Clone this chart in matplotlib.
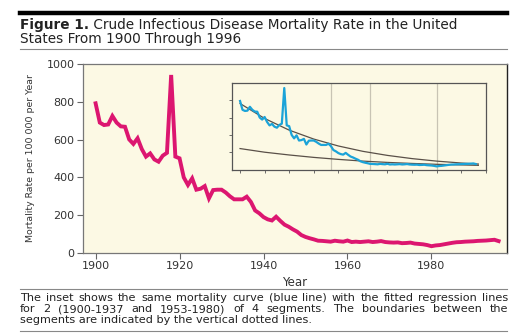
import matplotlib
matplotlib.use("Agg")
import matplotlib.pyplot as plt
import numpy as np

# ---- data ----
years = list(range(1900, 1997))
rate = [792, 690, 677, 680, 725, 690, 670, 668, 601, 577,
        607, 550, 510, 527, 495, 483, 515, 530, 942, 510,
        501, 400, 360, 395, 335, 340, 354, 289, 333, 335,
        335, 320, 300, 284, 284, 284, 298, 270, 225, 210,
        190, 178, 172, 192, 170, 150, 139, 125, 113, 95,
        85, 78, 72, 65, 64, 62, 60, 65, 62, 60,
        66, 58, 60, 58, 60, 62, 58, 60, 63, 58,
        56, 55, 56, 52, 53, 55, 50, 48, 46, 42,
        36, 40, 42, 46, 50, 54, 57, 58, 60, 61,
        62, 64, 65, 66, 68, 70, 63]

fit_years = [1900, 1910, 1920, 1930, 1940, 1950, 1960, 1970, 1980, 1990, 1997]
fit1 = [763, 590, 455, 352, 272, 210, 163, 126, 97, 75, 63]
fit2 = [242, 200, 168, 140, 117, 97, 82, 70, 60, 53, 48]
boundaries = [1937, 1953, 1980]

x_ticks = [1900, 1920, 1940, 1960, 1980]
y_ticks = [0, 200, 400, 600, 800, 1000]
inset_xticks = list(range(1900, 2001, 10))
inset_yticks = [200, 400, 600, 800]

title_bold = "Figure 1."
title_rest = " Crude Infectious Disease Mortality Rate in the United"
title_line2 = "States From 1900 Through 1996"
caption = ["The inset shows the same mortality curve (blue line) with the fitted regression lines",
           "for 2 (1900-1937 and 1953-1980) of 4 segments. The boundaries between the",
           "segments are indicated by the vertical dotted lines."]
ylabel = "Mortality Rate per 100 000 per Year"

W, H = 527, 336
fig = plt.figure(figsize=(W / 100, H / 100), dpi=100)
fig.patch.set_facecolor("white")

def fx(px):
    return px / W

def fy(py):
    return 1 - py / H

# header / footer rules
fig.add_artist(plt.Line2D([fx(20), fx(507)], [fy(13), fy(13)], color="black", lw=3.2))
fig.add_artist(plt.Line2D([fx(20), fx(507)], [fy(48.5), fy(48.5)], color="#888888", lw=0.8))
fig.add_artist(plt.Line2D([fx(20), fx(507)], [fy(288.5), fy(288.5)], color="#888888", lw=0.8))
fig.add_artist(plt.Line2D([fx(20), fx(507)], [fy(331), fy(331)], color="#888888", lw=0.8))

renderer = fig.canvas.get_renderer()
tfont = dict(family="DejaVu Sans", fontsize=9.8, color="#222222")
tb = fig.text(fx(20), fy(29.5), title_bold, fontweight="bold", va="baseline", ha="left", **tfont)
bb = tb.get_window_extent(renderer)
fig.text(bb.x1 / W, fy(29.5), title_rest, va="baseline", ha="left", **tfont)
fig.text(fx(20), fy(43), title_line2, va="baseline", ha="left", **tfont)

# caption: first two lines justified word by word
cfont = dict(family="DejaVu Sans", fontsize=8.1, color="#222222")
cap_y = [301, 312, 323]
for i, line in enumerate(caption):
    if i < 2:
        words = line.split(" ")
        widths = []
        for w_ in words:
            t = fig.text(0, 0, w_, **cfont)
            widths.append(t.get_window_extent(renderer).width)
            t.remove()
        gap = (508 - 20 - sum(widths)) / (len(words) - 1)
        x = 20.0
        for w_, wd in zip(words, widths):
            fig.text(fx(x), fy(cap_y[i]), w_, va="baseline", ha="left", **cfont)
            x += wd + gap
    else:
        fig.text(fx(20), fy(cap_y[i]), line, va="baseline", ha="left", **cfont)

# main axes
bg = "#fcf9e4"
ax = fig.add_axes([fx(83), fy(253), fx(507) - fx(83), fy(64) - fy(253)])
ax.set_facecolor(bg)
ax.plot(years, rate, color="#dc1670", lw=2.8, solid_joinstyle="miter")
ax.set_xlim(1897.0, 1998.0)
ax.set_ylim(0, 1000)
ax.set_xticks(x_ticks)
ax.set_yticks(y_ticks)
ax.tick_params(direction="out", length=4, width=0.8, color="#666666",
               labelsize=8, labelcolor="#333333", pad=2)
for s in ["left", "bottom", "top"]:
    ax.spines[s].set_color("#777777")
    ax.spines[s].set_linewidth(0.9)
ax.spines["right"].set_color("#222222")
ax.spines["right"].set_linewidth(1.0)
ax.set_xlabel("Year", fontsize=8.5, color="#333333", labelpad=3)

yl = fig.text(fx(31), fy(158), ylabel, rotation=90, ha="center", va="center",
              family="DejaVu Sans", fontsize=8.6, color="#333333")
ext = yl.get_window_extent(renderer)
yl.set_fontsize(8.6 * 168 / ext.height)

# inset
ia = fig.add_axes([fx(231.7), fy(169.5), fx(485.7) - fx(231.7), fy(83) - fy(169.5)])
ia.set_facecolor(bg)
for b in boundaries:
    ia.axvline(b, color="#c8c4b4", lw=0.9)
ia.plot(fit_years, fit1, color="#5a5048", lw=0.9)
ia.plot(fit_years, fit2, color="#5a5048", lw=0.9)
ia.plot(years, rate, color="#1ba3d8", lw=1.6)
ia.set_xlim(1896.6, 2000)
ia.set_ylim(0, 1000)
ia.set_xticks(inset_xticks)
ia.set_yticks(inset_yticks)
ia.set_xticklabels([])
ia.set_yticklabels([])
ia.tick_params(direction="out", length=2.5, width=0.6, color="#555555")
for s in ia.spines.values():
    s.set_color("#555555")
    s.set_linewidth(0.9)

fig.savefig("out.png", dpi=100, facecolor="white")
